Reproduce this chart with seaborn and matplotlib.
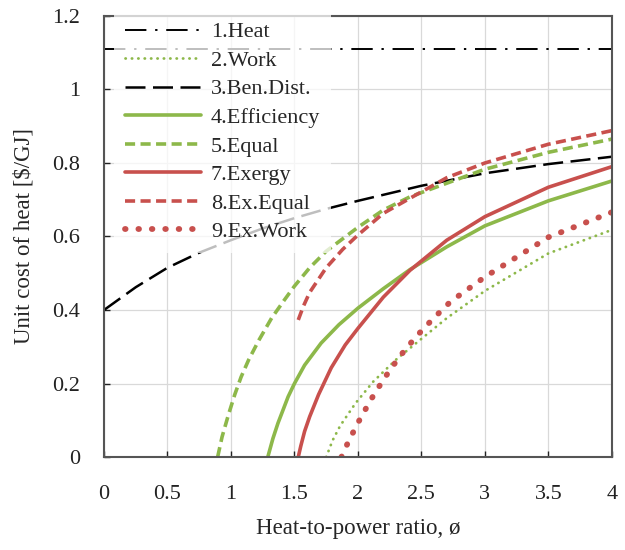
import numpy as np
import pandas as pd
import matplotlib
matplotlib.use("Agg")
import matplotlib.pyplot as plt
import seaborn as sns

# ---- data ----
heat_x = [0.0, 4.0]
heat_y = [1.11, 1.11]

work_x = [1.75, 1.80, 1.86, 1.98, 2.12, 2.3, 2.48, 2.7, 3.0, 3.5, 4.0]
work_y = [0.0, 0.045, 0.085, 0.146, 0.205, 0.265, 0.316, 0.378, 0.452, 0.554, 0.618]

bendist_x = [0.0, 0.25, 0.5, 0.75, 1.0, 1.25, 1.5, 1.75, 2.0, 2.5, 3.0, 3.5, 4.0]
bendist_y = [0.40, 0.462, 0.515, 0.556, 0.59, 0.622, 0.65, 0.675, 0.697, 0.738, 0.772, 0.797, 0.817]

eff_x = [1.29, 1.33, 1.37, 1.45, 1.5, 1.58, 1.71, 1.85, 2.0, 2.2, 2.41, 2.7, 3.0, 3.5, 4.0]
eff_y = [0.0, 0.05, 0.092, 0.164, 0.2, 0.25, 0.31, 0.36, 0.405, 0.458, 0.51, 0.572, 0.629, 0.697, 0.751]

equal_x = [0.895, 0.93, 0.98, 1.03, 1.08, 1.14, 1.22, 1.32, 1.42, 1.5, 1.62, 1.75, 2.0, 2.2, 2.41, 2.7, 3.0, 3.5, 4.0]
equal_y = [0.0, 0.055, 0.115, 0.17, 0.218, 0.265, 0.318, 0.378, 0.427, 0.465, 0.515, 0.56, 0.625, 0.672, 0.708, 0.745, 0.783, 0.829, 0.865]

exergy_x = [1.53, 1.55, 1.58, 1.62, 1.69, 1.79, 1.9, 2.0, 2.2, 2.41, 2.7, 3.0, 3.5, 4.0]
exergy_y = [0.0, 0.03, 0.07, 0.11, 0.17, 0.243, 0.305, 0.35, 0.435, 0.508, 0.59, 0.654, 0.734, 0.79]

exequal_x = [1.53, 1.57, 1.62, 1.75, 1.88, 2.0, 2.2, 2.41, 2.7, 3.0, 3.5, 4.0]
exequal_y = [0.373, 0.41, 0.448, 0.515, 0.565, 0.604, 0.663, 0.704, 0.76, 0.80, 0.851, 0.888]

exwork_x = [1.87, 1.91, 1.956, 2.0, 2.1, 2.207, 2.323, 2.454, 2.588, 2.73, 3.0, 3.5, 4.0]
exwork_y = [0.0, 0.031, 0.063, 0.093, 0.155, 0.214, 0.271, 0.326, 0.375, 0.423, 0.49, 0.598, 0.666]

x_ticks = [0, 0.5, 1, 1.5, 2, 2.5, 3, 3.5, 4]
x_ticklabels = ["0", "0.5", "1", "1.5", "2", "2.5", "3", "3.5", "4"]
y_ticks = [0, 0.2, 0.4, 0.6, 0.8, 1.0, 1.2]
y_ticklabels = ["0", "0.2", "0.4", "0.6", "0.8", "1", "1.2"]

GREEN = "#8DB84A"
RED = "#C8504D"

sns.set_theme(style="whitegrid")
plt.rcParams["font.family"] = ["Liberation Serif", "DejaVu Serif"]
plt.rcParams["mathtext.default"] = "regular"

fig = plt.figure(figsize=(6.25, 5.5), dpi=100)
ax = fig.add_axes([0.1664, 0.169, 0.8126, 0.802])

series = [
    ("1.Heat", heat_x, heat_y, dict(color="black", lw=1.4, linestyle=(0, (11, 4.5, 1.2, 4.5)))),
    ("2.Work", work_x, work_y, dict(color=GREEN, lw=2.0, linestyle=(0, (0.1, 2.2)), dash_capstyle="round")),
    ("3.Ben.Dist.", bendist_x, bendist_y, dict(color="black", lw=1.8, linestyle=(0, (8, 3)))),
    ("4.Efficiency", eff_x, eff_y, dict(color=GREEN, lw=2.6, linestyle="-")),
    ("5.Equal", equal_x, equal_y, dict(color=GREEN, lw=2.6, linestyle=(0, (2.8, 1.5)))),
    ("7.Exergy", exergy_x, exergy_y, dict(color=RED, lw=2.6, linestyle="-")),
    ("8.Ex.Equal", exequal_x, exequal_y, dict(color=RED, lw=2.6, linestyle=(0, (2.8, 1.5)))),
    ("9.Ex.Work", exwork_x, exwork_y, dict(color=RED, lw=4.2, linestyle=(0, (0.1, 2.2)), dash_capstyle="round")),
]

for name, xs, ys, style in series:
    df = pd.DataFrame({"x": xs, "y": ys})
    sns.lineplot(data=df, x="x", y="y", ax=ax, label=name, sort=True, estimator=None, **style)

ax.set_xlim(0, 4)
ax.set_ylim(0, 1.2)
ax.set_xticks(x_ticks)
ax.set_xticklabels(x_ticklabels)
ax.set_yticks(y_ticks)
ax.set_yticklabels(y_ticklabels)
ax.set_xlabel("Heat-to-power ratio, ø", fontsize=16.5, labelpad=10)
ax.set_ylabel("Unit cost of heat [$/GJ]", fontsize=16.5, labelpad=13)
ax.tick_params(axis="both", labelsize=16, colors="#222222", direction="in",
               length=4, width=1, bottom=True, left=True)
ax.tick_params(axis="x", pad=20)
ax.tick_params(axis="y", pad=17)
ax.grid(True, color="#d9d9d9", lw=0.9)
ax.set_facecolor("white")
for sp in ax.spines.values():
    sp.set_color("#555555")
    sp.set_linewidth(1.5)

leg = ax.legend(loc="upper left", bbox_to_anchor=(0.02, 1.012), fontsize=16,
                handlelength=3.4, handletextpad=0.45, labelspacing=0.36,
                frameon=True, framealpha=0.75, borderaxespad=0.0, borderpad=0.5)
leg.get_frame().set_edgecolor("none")
leg.get_frame().set_facecolor("white")

fig.savefig("out.png", dpi=100)
